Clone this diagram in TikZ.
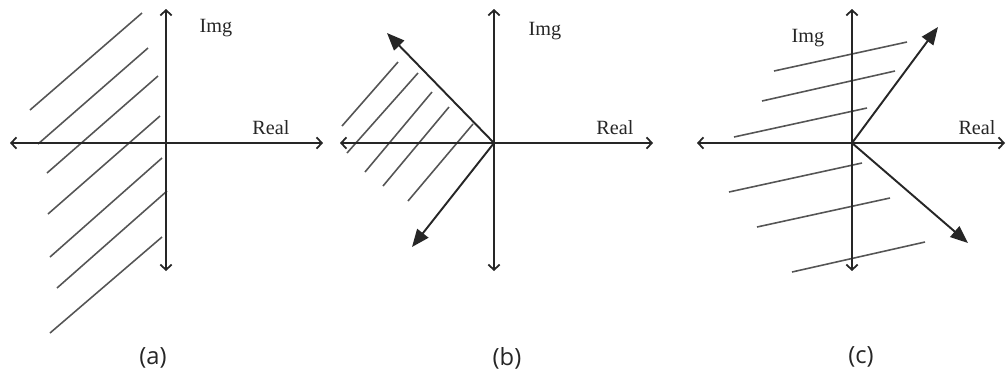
\documentclass[tikz,border=0pt]{standalone}
\usepackage{fontspec}
\setmainfont{Liberation Serif}
\newfontfamily\capfont{Open Sans}
\usetikzlibrary{arrows.meta}
\definecolor{axisdark}{HTML}{262626}
\definecolor{hatchgray}{HTML}{555555}

\begin{document}
\begin{tikzpicture}[x=0.02cm, y=-0.02cm,
  axisline/.style={axisdark, line width=1pt, {Straight Barb[length=3pt,width=6.5pt]}-{Straight Barb[length=3pt,width=6.5pt]}},
  rootray/.style={axisdark, line width=1.1pt, -{Triangle[length=10pt,width=8pt]}},
  hatch/.style={hatchgray, line width=0.9pt},
  axislabel/.style={axisdark, font=\fontsize{11.5}{13}\selectfont},
  caption/.style={axisdark, font=\capfont\fontsize{13.5}{16}\selectfont}]
  \useasboundingbox (0,0) rectangle (1007,380);

  % (a) left half plane
  \coordinate (aL) at (10,143);
  \coordinate (aR) at (323,143);
  \coordinate (aT) at (166,9);
  \coordinate (aB) at (166,271);
  \draw[hatch] (30,110) -- (142,13);
  \draw[hatch] (38,144) -- (148,48);
  \draw[hatch] (47,173) -- (158,76);
  \draw[hatch] (48,214) -- (160,116);
  \draw[hatch] (50,257) -- (162,158);
  \draw[hatch] (57,288) -- (167,191);
  \draw[hatch] (50,333) -- (162,237);
  \draw[axisline] (aL) -- (aR);
  \draw[axisline] (aB) -- (aT);
  \node[axislabel] (aImg) at (216,28) {Img};
  \node[axislabel] (aReal) at (271,128) {Real};
  \node[caption] (aCap) at (153,358) {(a)};

  % (b) left wedge
  \coordinate (bO) at (494,143);
  \coordinate (bL) at (340,143);
  \coordinate (bR) at (653,143);
  \coordinate (bT) at (494,9);
  \coordinate (bB) at (494,271);
  \coordinate (bUp) at (387,33);
  \coordinate (bDn) at (412,247);
  \draw[hatch] (342,126) -- (398,62);
  \draw[hatch] (347,153) -- (418,73);
  \draw[hatch] (365,172) -- (432,92);
  \draw[hatch] (383,186) -- (449,107);
  \draw[hatch] (408,201) -- (473,124);
  \draw[axisline] (bL) -- (bR);
  \draw[axisline] (bB) -- (bT);
  \draw[rootray] (bO) -- (bUp);
  \draw[rootray] (bO) -- (bDn);
  \node[axislabel] (bImg) at (545,31) {Img};
  \node[axislabel] (bReal) at (615,128) {Real};
  \node[caption] (bCap) at (507,358) {(b)};

  % (c) right wedge excluded
  \coordinate (cO) at (852,143);
  \coordinate (cL) at (697,143);
  \coordinate (cR) at (1005,143);
  \coordinate (cT) at (852,9);
  \coordinate (cB) at (852,271);
  \coordinate (cUp) at (938,27);
  \coordinate (cDn) at (968,243);
  \draw[hatch] (774,71) -- (907,42);
  \draw[hatch] (762,101) -- (895,71);
  \draw[hatch] (734,137) -- (867,108);
  \draw[hatch] (729,192) -- (862,163);
  \draw[hatch] (757,227) -- (890,198);
  \draw[hatch] (792,272) -- (925,242);
  \draw[axisline] (cL) -- (cR);
  \draw[axisline] (cB) -- (cT);
  \draw[rootray] (cO) -- (cUp);
  \draw[rootray] (cO) -- (cDn);
  \node[axislabel] (cImg) at (808,38) {Img};
  \node[axislabel] (cReal) at (977,128) {Real};
  \node[caption] (cCap) at (861,357) {(c)};
\end{tikzpicture}
\end{document}
